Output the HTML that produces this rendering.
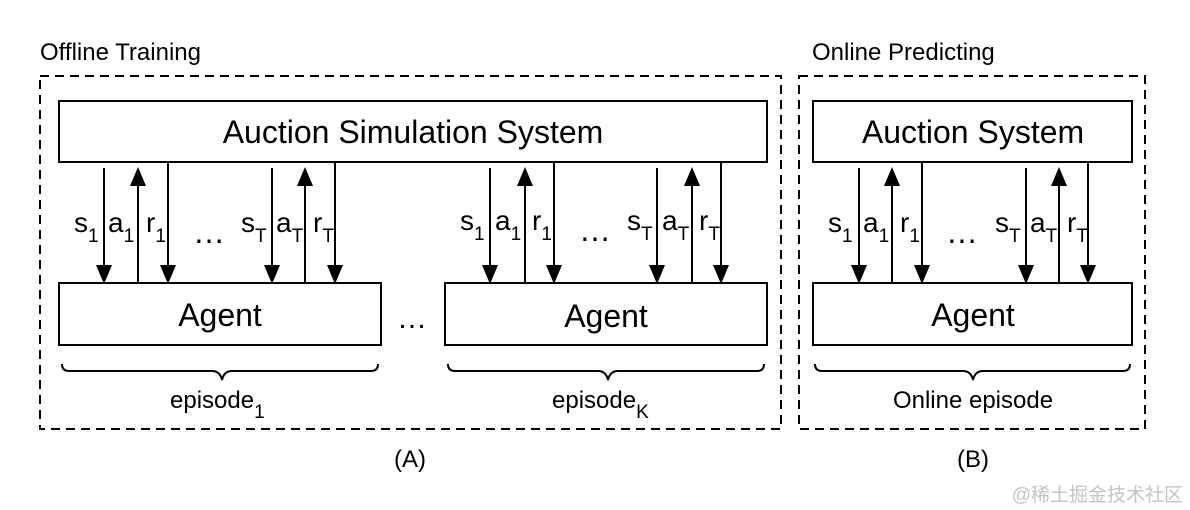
<!DOCTYPE html>
<html><head><meta charset="utf-8"><style>
html,body{margin:0;padding:0;background:#fff;}
svg{display:block;}
text{font-family:"Liberation Sans",Arial,sans-serif;fill:#000;}
</style></head><body>
<svg width="1190" height="510" viewBox="0 0 1190 510" xmlns="http://www.w3.org/2000/svg">
<text x="40" y="60" font-size="24">Offline Training</text>
<text x="812" y="60" font-size="24">Online Predicting</text>
<g fill="none" stroke="#000" stroke-width="2" stroke-dasharray="9,6">
<rect x="40" y="76" width="741" height="353"/>
<rect x="799" y="76" width="346" height="353"/>
</g>
<g fill="#fff" stroke="#000" stroke-width="2">
<rect x="59" y="101" width="708" height="61"/>
<rect x="59" y="283" width="322" height="62"/>
<rect x="445" y="283" width="322" height="62"/>
<rect x="813" y="101" width="319" height="61"/>
<rect x="813" y="283" width="319" height="62"/>
</g>
<g font-size="32" text-anchor="middle">
<text x="413" y="143">Auction Simulation System</text>
<text x="220" y="326">Agent</text>
<text x="606" y="327">Agent</text>
<text x="973" y="143">Auction System</text>
<text x="973" y="326">Agent</text>
</g>
<text x="397" y="328" font-size="30">…</text>
<g stroke="#000" stroke-width="2">
<line x1="104" y1="168" x2="104" y2="266"/><line x1="138" y1="283" x2="138" y2="185"/><line x1="168" y1="162" x2="168" y2="266"/>
<line x1="272" y1="168" x2="272" y2="266"/><line x1="305" y1="283" x2="305" y2="185"/><line x1="335" y1="162" x2="335" y2="266"/>
<line x1="490" y1="168" x2="490" y2="266"/><line x1="525" y1="283" x2="525" y2="185"/><line x1="554" y1="162" x2="554" y2="266"/>
<line x1="657" y1="168" x2="657" y2="266"/><line x1="692" y1="283" x2="692" y2="185"/><line x1="721" y1="162" x2="721" y2="266"/>
<line x1="859" y1="168" x2="859" y2="266"/><line x1="892" y1="283" x2="892" y2="185"/><line x1="922" y1="162" x2="922" y2="266"/>
<line x1="1026" y1="168" x2="1026" y2="266"/><line x1="1059" y1="283" x2="1059" y2="185"/><line x1="1088" y1="162" x2="1088" y2="266"/>
</g>
<g fill="#000">
<polygon points="96,265 112,265 104,284"/><polygon points="130,186 146,186 138,167"/><polygon points="160,265 176,265 168,284"/>
<polygon points="264,265 280,265 272,284"/><polygon points="297,186 313,186 305,167"/><polygon points="327,265 343,265 335,284"/>
<polygon points="482,265 498,265 490,284"/><polygon points="517,186 533,186 525,167"/><polygon points="546,265 562,265 554,284"/>
<polygon points="649,265 665,265 657,284"/><polygon points="684,186 700,186 692,167"/><polygon points="713,265 729,265 721,284"/>
<polygon points="851,265 867,265 859,284"/><polygon points="884,186 900,186 892,167"/><polygon points="914,265 930,265 922,284"/>
<polygon points="1018,265 1034,265 1026,284"/><polygon points="1051,186 1067,186 1059,167"/><polygon points="1080,265 1096,265 1088,284"/>
</g>
<g font-size="28">
<text x="74" y="232">s<tspan font-size="19" dy="10">1</tspan></text>
<text x="108" y="232">a<tspan font-size="19" dy="10">1</tspan></text>
<text x="146" y="232">r<tspan font-size="19" dy="10">1</tspan></text>
<text x="193" y="243" font-size="32">…</text>
<text x="241" y="232">s<tspan font-size="19" dy="10">T</tspan></text>
<text x="276" y="232">a<tspan font-size="19" dy="10">T</tspan></text>
<text x="313" y="232">r<tspan font-size="19" dy="10">T</tspan></text>

<text x="460" y="230">s<tspan font-size="19" dy="10">1</tspan></text>
<text x="495" y="230">a<tspan font-size="19" dy="10">1</tspan></text>
<text x="532" y="230">r<tspan font-size="19" dy="10">1</tspan></text>
<text x="579" y="241" font-size="32">…</text>
<text x="627" y="230">s<tspan font-size="19" dy="10">T</tspan></text>
<text x="662" y="230">a<tspan font-size="19" dy="10">T</tspan></text>
<text x="699" y="230">r<tspan font-size="19" dy="10">T</tspan></text>

<text x="828" y="232">s<tspan font-size="19" dy="10">1</tspan></text>
<text x="863" y="232">a<tspan font-size="19" dy="10">1</tspan></text>
<text x="900" y="232">r<tspan font-size="19" dy="10">1</tspan></text>
<text x="946" y="243" font-size="32">…</text>
<text x="995" y="232">s<tspan font-size="19" dy="10">T</tspan></text>
<text x="1030" y="232">a<tspan font-size="19" dy="10">T</tspan></text>
<text x="1067" y="232">r<tspan font-size="19" dy="10">T</tspan></text>
</g>
<g fill="none" stroke="#000" stroke-width="2">
<path d="M62,364 Q62,371 69,371 L212,371 Q220,371 222,380 Q224,371 232,371 L371,371 Q378,371 378,364"/>
<path d="M448,364 Q448,371 455,371 L598,371 Q606,371 608,380 Q610,371 618,371 L757,371 Q764,371 764,364"/>
<path d="M815,364 Q815,371 822,371 L963,371 Q971,371 973,380 Q975,371 983,371 L1123,371 Q1130,371 1130,364"/>
</g>
<g font-size="24">
<text x="170" y="408">episode<tspan font-size="19" dy="10">1</tspan></text>
<text x="552" y="408">episode<tspan font-size="19" dy="10">K</tspan></text>
<text x="973" y="408" text-anchor="middle">Online episode</text>
<text x="410" y="467" text-anchor="middle">(A)</text>
<text x="973" y="467" text-anchor="middle">(B)</text>
</g>
<text x="1183" y="501" font-size="19" text-anchor="end" style="fill:#c4c4c4;font-family:'Liberation Sans','Noto Sans CJK SC',sans-serif">@稀土掘金技术社区</text>
</svg>
</body></html>
